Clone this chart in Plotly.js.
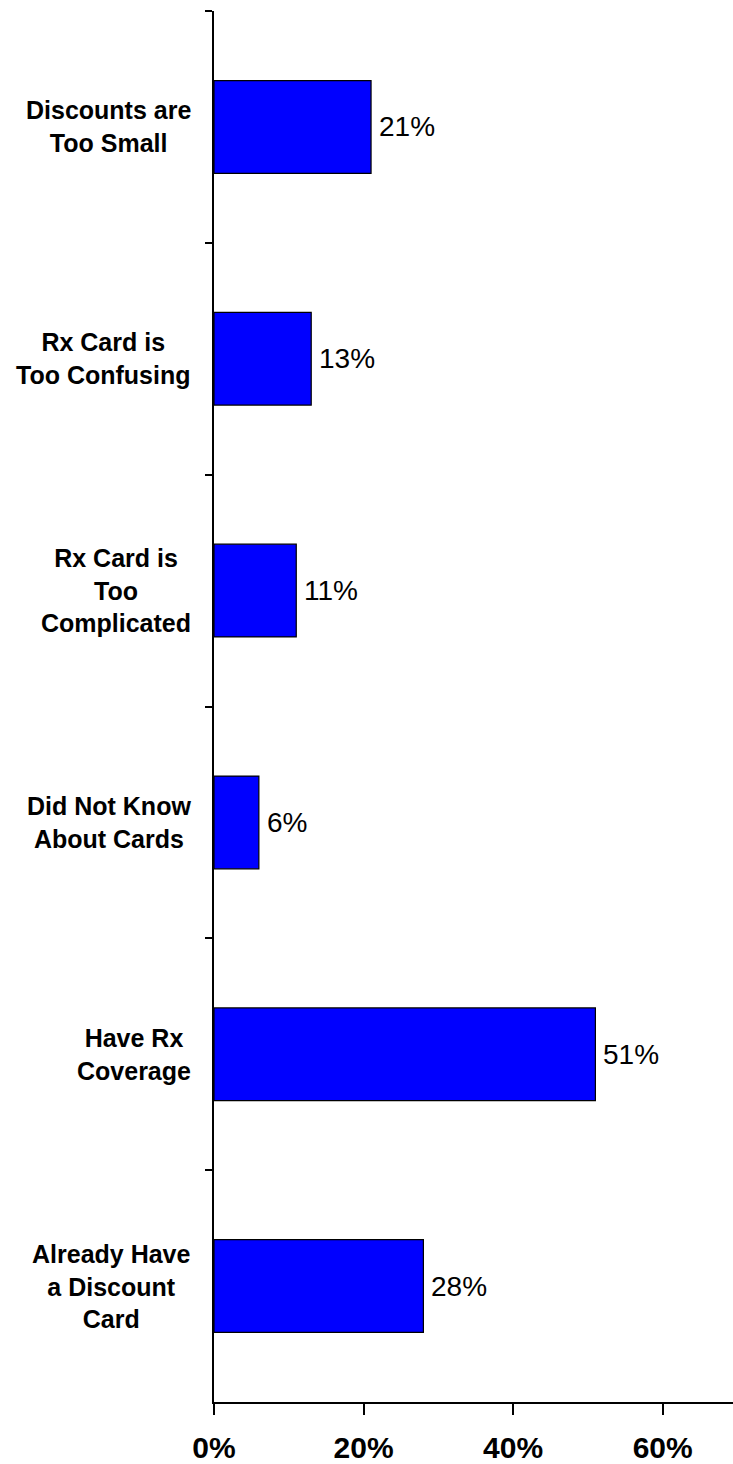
<!DOCTYPE html>
<html>
<head>
<meta charset="utf-8">
<script src="https://cdn.plot.ly/plotly-3.0.1.min.js"></script>
<style>
html,body{margin:0;padding:0;background:#fff;}
#chart{width:733px;height:1464px;}
</style>
</head>
<body>
<div id="chart"></div>
<script>
var categories = ["Discounts are Too Small", "Rx Card is Too Confusing", "Rx Card is Too Complicated", "Did Not Know About Cards", "Have Rx Coverage", "Already Have a Discount Card"];
var categoryLabels = ["Discounts are<br>Too Small", "Rx Card is<br>Too Confusing", "Rx Card is<br>Too<br>Complicated", "Did Not Know<br>About Cards", "Have Rx<br>Coverage", "Already Have<br>a Discount<br>Card"];
var values = [21, 13, 11, 6, 51, 28];
var valueLabels = ["21%", "13%", "11%", "6%", "51%", "28%"];
var xTickVals = [0, 20, 40, 60];
var xTickText = ["0%", "20%", "40%", "60%"];

var FONT = "Liberation Sans, Arial, sans-serif";

var trace = {
  type: "bar",
  orientation: "h",
  x: values,
  y: categories,
  marker: {color: "#0000FF", line: {color: "#000000", width: 1.2}},
  hoverinfo: "none"
};

var annotations = [];
categories.forEach(function (c, i) {
  annotations.push({
    xref: "paper", yref: "y", x: 0, y: c,
    xanchor: "right", yanchor: "middle", align: "center",
    xshift: -22, showarrow: false, borderpad: 0,
    text: categoryLabels[i],
    font: {family: FONT, size: 25, color: "#000", weight: 700}
  });
  annotations.push({
    xref: "x", yref: "y", x: values[i], y: c,
    xanchor: "left", yanchor: "middle",
    xshift: 7, showarrow: false, borderpad: 0,
    text: valueLabels[i],
    font: {family: FONT, size: 28, color: "#000"}
  });
});

var layout = {
  width: 733, height: 1464,
  margin: {l: 214, r: 0, t: 11, b: 62, pad: 0},
  paper_bgcolor: "#fff", plot_bgcolor: "#fff",
  showlegend: false,
  bargap: 0.6,
  xaxis: {
    range: [0, 69.4],
    tickvals: xTickVals, ticktext: xTickText,
    ticks: "outside", ticklen: 11, tickwidth: 2, tickcolor: "#000",
    showline: true, linecolor: "#000", linewidth: 2,
    showgrid: false, zeroline: false,
    ticklabelstandoff: 7,
    tickfont: {family: FONT, size: 30, color: "#000", weight: 700}
  },
  yaxis: {
    type: "category",
    range: [5.5, -0.5],
    tickson: "boundaries",
    ticks: "outside", ticklen: 7, tickwidth: 2, tickcolor: "#000",
    showticklabels: false,
    showline: true, linecolor: "#000", linewidth: 2,
    showgrid: false, zeroline: false
  },
  annotations: annotations
};

Plotly.newPlot("chart", [trace], layout, {staticPlot: true, displayModeBar: false});
</script>
</body>
</html>
